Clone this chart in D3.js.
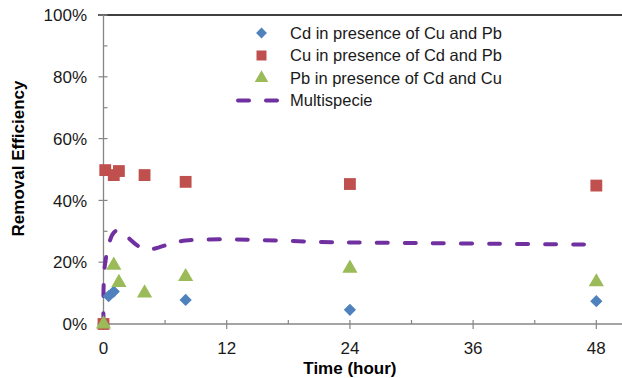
<!DOCTYPE html>
<html><head><meta charset="utf-8">
<script src="https://cdn.jsdelivr.net/npm/d3@7"></script>
<style>body{margin:0;background:#fff}svg{display:block;font-family:"Liberation Sans",Arial,sans-serif}</style>
</head><body><svg id="c" width="622" height="378"></svg>
<script>
const cdTime = [0, 0.5, 1, 8, 24, 48];
const cdValue = [0, 9.0, 10.5, 7.8, 4.6, 7.4];
const cuTime = [0, 0.17, 1, 1.5, 4, 8, 24, 48];
const cuValue = [0, 49.8, 48.2, 49.5, 48.2, 46.0, 45.3, 44.8];
const pbTime = [0, 1, 1.5, 4, 8, 24, 48];
const pbValue = [0, 19.0, 13.4, 10.0, 15.3, 18.0, 13.6];
const multiTime = [0, 0.17, 1, 1.5, 4, 8, 24, 48];
const multiValue = [0, 20, 29.6, 30.2, 24.3, 27.0, 26.4, 25.7];
const xTicks = [0, 12, 24, 36, 48];
const yTicks = [0, 20, 40, 60, 80, 100];
const legendLabels = ["Cd in presence of Cu and Pb", "Cu in presence of Cd and Pb", "Pb in presence of Cd and Cu", "Multispecie"];

const svg = d3.select("#c");
const x = d3.scaleLinear().domain([0, 50.5]).range([103.5, 622]);
const y = d3.scaleLinear().domain([0, 100]).range([324, 15]);
const gray = "#868686";

// top border
svg.append("line").attr("x1", 98).attr("x2", 622).attr("y1", y(100)).attr("y2", y(100)).attr("stroke", "#000").attr("stroke-width", 1.3);

// y axis
svg.append("line").attr("x1", x(0)).attr("x2", x(0)).attr("y1", y(0)).attr("y2", y(100)).attr("stroke", gray).attr("stroke-width", 1.3);
d3.range(0, 101, 10).forEach(v => {
  const major = v % 20 === 0;
  svg.append("line").attr("x1", major ? x(0) - 5 : x(0)).attr("x2", x(0) + 4).attr("y1", y(v)).attr("y2", y(v)).attr("stroke", gray).attr("stroke-width", 1.2);
});
svg.append("g").selectAll("text").data(yTicks).join("text")
  .attr("x", 87).attr("y", d => y(d)).attr("dy", "0.36em").attr("text-anchor", "end")
  .attr("font-size", 17).attr("fill", "#1a1a1a").text(d => d + "%");

// x axis
svg.append("line").attr("x1", x(0)).attr("x2", 622).attr("y1", y(0)).attr("y2", y(0)).attr("stroke", gray).attr("stroke-width", 1.3);
d3.range(0, 49, 6).forEach(v => {
  const major = v % 12 === 0;
  svg.append("line").attr("x1", x(v)).attr("x2", x(v)).attr("y1", y(0) - 4).attr("y2", major ? y(0) + 5 : y(0)).attr("stroke", gray).attr("stroke-width", 1.2);
});
svg.append("g").selectAll("text").data(xTicks).join("text")
  .attr("x", d => x(d)).attr("y", 354).attr("text-anchor", "middle")
  .attr("font-size", 17).attr("fill", "#1a1a1a").text(d => d);

// axis titles
svg.append("text").attr("x", x(24)).attr("y", 374).attr("text-anchor", "middle").attr("font-size", 17).attr("font-weight", "bold").attr("fill", "#000").text("Time (hour)");
svg.append("text").attr("transform", `translate(24,${(y(0)+y(100))/2 - 11}) rotate(-90)`).attr("text-anchor", "middle").attr("font-size", 17).attr("font-weight", "bold").attr("fill", "#000").text("Removal Efficiency");

// multispecie line
const lineData = multiTime.map((t, i) => [t, multiValue[i]]);
svg.append("path").datum(lineData)
  .attr("d", d3.line().x(d => x(d[0])).y(d => y(d[1])).curve(d3.curveCatmullRom.alpha(0.5)))
  .attr("fill", "none").attr("stroke", "#7030A0").attr("stroke-width", 4)
  .attr("stroke-linecap", "round").attr("stroke-dasharray", "11,17");

const sym = {
  cd: d3.symbol().type(d3.symbolDiamond2).size(95),
  cu: d3.symbol().type(d3.symbolSquare).size(140),
  pb: d3.symbol().type(d3.symbolTriangle).size(100)
};
const cols = { cd: "#4F81BD", cu: "#C0504D", pb: "#9BBB59" };

function drawPts(times, vals, key) {
  svg.append("g").selectAll("path").data(times.map((t, i) => [t, vals[i]])).join("path")
    .attr("transform", d => `translate(${x(d[0])},${y(d[1])})`)
    .attr("d", sym[key]).attr("fill", cols[key]);
}
drawPts(cdTime, cdValue, "cd");
drawPts(cuTime, cuValue, "cu");
drawPts(pbTime, pbValue, "pb");

// legend
const ly = [33, 55.5, 78, 100.5];
const lg = svg.append("g");
["cd", "cu", "pb"].forEach((k, i) => {
  const s = k === "cd" ? d3.symbol().type(d3.symbolDiamond2).size(75) : k === "cu" ? d3.symbol().type(d3.symbolSquare).size(100) : d3.symbol().type(d3.symbolTriangle).size(80);
  lg.append("path").attr("transform", `translate(261.5,${ly[i]})`).attr("d", s).attr("fill", cols[k]);
});
lg.append("line").attr("x1", 238).attr("x2", 280).attr("y1", ly[3]).attr("y2", ly[3])
  .attr("stroke", "#7030A0").attr("stroke-width", 4).attr("stroke-linecap", "round").attr("stroke-dasharray", "11,17");
lg.selectAll("text").data(legendLabels).join("text")
  .attr("x", 290).attr("y", (d, i) => ly[i]).attr("dy", "0.36em")
  .attr("font-size", 16.5).attr("fill", "#1a1a1a").text(d => d);
</script></body></html>
